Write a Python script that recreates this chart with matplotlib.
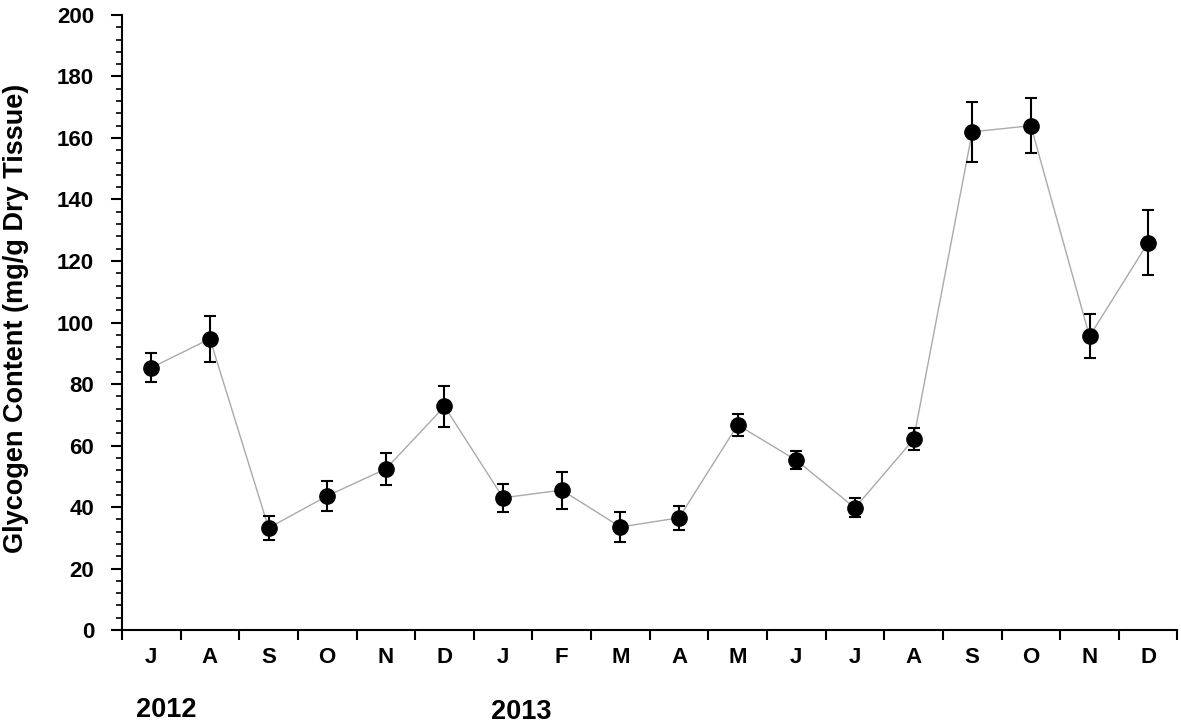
import numpy as np
import matplotlib.pyplot as plt
from matplotlib.ticker import MultipleLocator

plt.rcParams['font.family'] = ['Liberation Sans', 'DejaVu Sans']

# Monate Juni 2012 - Dezember 2013
months = ['J', 'A', 'S', 'O', 'N', 'D', 'J', 'F', 'M', 'A', 'M', 'J', 'J', 'A', 'S', 'O', 'N', 'D']
glycogen = np.array([85.3, 94.7, 33.2, 43.6, 52.4, 72.7, 43.0, 45.5, 33.5, 36.5,
                     66.7, 55.2, 39.7, 62.0, 162.0, 164.0, 95.5, 126.0])
err = np.array([4.7, 7.5, 4.0, 4.9, 5.2, 6.8, 4.6, 6.0, 4.9, 3.9,
                3.7, 3.0, 3.1, 3.6, 9.7, 9.0, 7.2, 10.5])
years = ['2012', '2013']

fig = plt.figure(figsize=(11.81, 7.24), dpi=100)
ax = fig.add_axes([0.1033, 0.1298, 0.8937, 0.8495])

x = np.arange(len(months)) + 0.5
ax.plot(x, glycogen, '-', color='#aaaaaa', linewidth=1.0, zorder=1)
ax.errorbar(x, glycogen, yerr=err, fmt='o', color='black', markersize=11,
            ecolor='black', elinewidth=1.5, capsize=4, capthick=1.5, zorder=2)

ax.set_xlim(0, len(months))
ax.set_ylim(0, 200)

# x-Achse: Ticks an den Grenzen, Labels in der Mitte
ax.set_xticks(np.arange(len(months) + 1))
ax.set_xticklabels([])
ax.set_xticks(x, minor=True)
ax.set_xticklabels(months, minor=True, fontsize=16, fontweight='bold')
ax.tick_params(axis='x', which='major', direction='out', length=7, width=1.5)
ax.tick_params(axis='x', which='minor', length=0, pad=12)

# y-Achse
ax.yaxis.set_major_locator(MultipleLocator(20))
ax.yaxis.set_minor_locator(MultipleLocator(4))
ax.tick_params(axis='y', which='major', direction='out', length=8, width=1.5,
               labelsize=16, pad=12)
ax.tick_params(axis='y', which='minor', direction='out', length=4, width=1.2)
for lab in ax.get_yticklabels():
    lab.set_fontweight('bold')

ax.set_ylabel('Glycogen Content (mg/g Dry Tissue)', fontsize=19.5, fontweight='bold')
ax.yaxis.set_label_coords(-0.088, 0.507)

for side in ['top', 'right']:
    ax.spines[side].set_visible(False)
ax.spines['left'].set_linewidth(1.5)
ax.spines['bottom'].set_linewidth(1.5)

# Jahreszahlen
fig.text(166 / 1181, 1 - 710 / 724, years[0], ha='center', va='center', fontsize=19.5, fontweight='bold')
fig.text(521 / 1181, 1 - 712 / 724, years[1], ha='center', va='center', fontsize=19.5, fontweight='bold')

fig.savefig('out.png', dpi=100)
